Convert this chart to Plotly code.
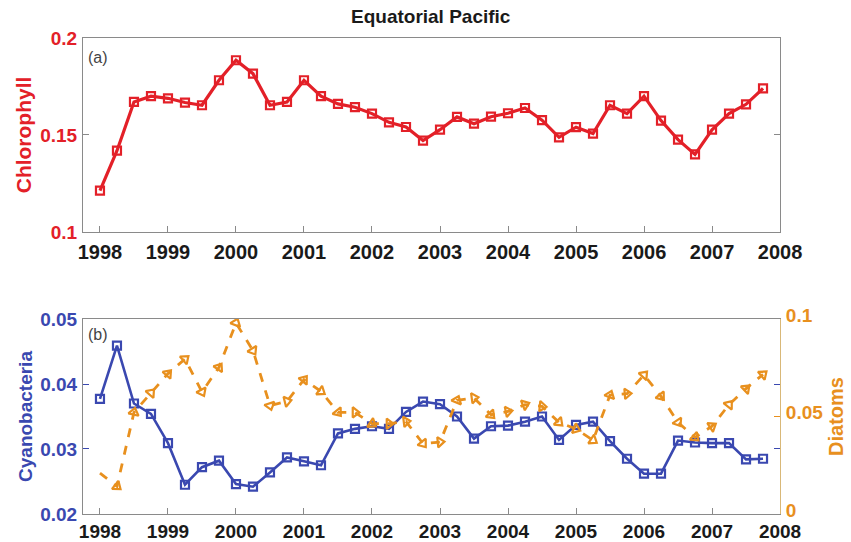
import plotly.graph_objects as go

years = [1998 + 0.25 * i for i in range(40)]

chlorophyll = [0.1213, 0.1419, 0.1670, 0.1700, 0.1689, 0.1667, 0.1653, 0.1782, 0.1885, 0.1816,
               0.1653, 0.1670, 0.1782, 0.1700, 0.1660, 0.1643, 0.1610, 0.1565, 0.1541, 0.1471,
               0.1527, 0.1593, 0.1558, 0.1594, 0.1612, 0.1639, 0.1576, 0.1488, 0.1540, 0.1507,
               0.1653, 0.1610, 0.1700, 0.1574, 0.1476, 0.1400, 0.1527, 0.1610, 0.1658, 0.1740]

cyanobacteria = [0.0377, 0.0459, 0.0370, 0.0354, 0.0309, 0.0245, 0.0272, 0.0282, 0.0246, 0.0242,
                 0.0264, 0.0287, 0.0281, 0.0275, 0.0324, 0.0331, 0.0335, 0.0331, 0.0357, 0.0373,
                 0.0369, 0.0350, 0.0316, 0.0335, 0.0336, 0.0342, 0.0350, 0.0314, 0.0337, 0.0342,
                 0.0312, 0.0285, 0.0262, 0.0262, 0.0313, 0.0310, 0.0309, 0.0309, 0.0284, 0.0285]

diatoms = [0.0210, 0.0142, 0.0521, 0.0621, 0.0720, 0.0795, 0.0626, 0.0752, 0.0980, 0.0838,
           0.0556, 0.0578, 0.0689, 0.0629, 0.0521, 0.0521, 0.0463, 0.0463, 0.0474, 0.0361,
           0.0369, 0.0583, 0.0595, 0.0509, 0.0526, 0.0561, 0.0552, 0.0470, 0.0436, 0.0378,
           0.0610, 0.0617, 0.0713, 0.0603, 0.0470, 0.0393, 0.0450, 0.0561, 0.0643, 0.0716]

x_ticks = list(range(1998, 2009))

RED = "#e32028"
BLUE = "#3a48b0"
ORANGE = "#e8901e"
FRAME = "#8a8a8a"
FONT = "Liberation Sans"

fig = go.Figure()

fig.add_trace(go.Scatter(
    x=years, y=chlorophyll, mode="lines+markers", xaxis="x", yaxis="y",
    line=dict(color=RED, width=3.2),
    marker=dict(symbol="square-open", size=8, color=RED, line=dict(width=2.2, color=RED)),
    showlegend=False))

fig.add_trace(go.Scatter(
    x=years, y=cyanobacteria, mode="lines+markers", xaxis="x2", yaxis="y2",
    line=dict(color=BLUE, width=2.6),
    marker=dict(symbol="square-open", size=8, color=BLUE, line=dict(width=2.2, color=BLUE)),
    showlegend=False))

fig.add_trace(go.Scatter(
    x=years, y=diatoms, mode="lines+markers", xaxis="x2", yaxis="y3",
    line=dict(color=ORANGE, width=2.8, dash="dash"),
    marker=dict(symbol="triangle-up-open", size=9, color=ORANGE, angleref="previous",
                line=dict(width=2.2, color=ORANGE)),
    showlegend=False))

def xaxis_opts(standoff, size):
    return dict(range=[1997.75, 2008], tickmode="array", tickvals=x_ticks,
                ticks="inside", ticklen=6, tickcolor=FRAME, showgrid=False, zeroline=False,
                showline=True, linecolor=FRAME, linewidth=1, mirror=True,
                ticklabelstandoff=standoff,
                tickfont=dict(family=FONT, size=size, color="#1a1a1a", weight="bold"),
                automargin=False)

fig.update_layout(
    width=851, height=542,
    margin=dict(l=0, r=0, t=0, b=0),
    paper_bgcolor="white", plot_bgcolor="white",
    xaxis=dict(domain=[0.0975, 0.9166], anchor="y", **xaxis_opts(2, 20)),
    yaxis=dict(domain=[0.572, 0.930], anchor="x", range=[0.1, 0.2],
               tickvals=[0.1, 0.15, 0.2], ticktext=["0.1", "0.15", "0.2"],
               ticks="inside", ticklen=6, tickcolor=FRAME, showgrid=False, zeroline=False,
               showline=True, linecolor=FRAME, linewidth=1, mirror="ticks",
               ticklabelstandoff=1,
               tickfont=dict(family=FONT, size=19, color=RED, weight="bold"),
               title=dict(text="Chlorophyll", standoff=2,
                          font=dict(family=FONT, size=21, color=RED, weight="bold")),
               automargin=False),
    xaxis2=dict(domain=[0.0975, 0.9166], anchor="y2", **xaxis_opts(0, 19)),
    yaxis2=dict(domain=[0.0517, 0.4114], anchor="x2", range=[0.02, 0.05],
                tickvals=[0.02, 0.03, 0.04, 0.05], ticktext=["0.02", "0.03", "0.04", "0.05"],
                ticks="inside", ticklen=6, tickcolor=BLUE, showgrid=False, zeroline=False,
                showline=True, linecolor=FRAME, linewidth=1, mirror="ticks",
                ticklabelstandoff=1,
                tickfont=dict(family=FONT, size=19, color=BLUE, weight="bold"),
                title=dict(text="Cyanobacteria", standoff=2,
                           font=dict(family=FONT, size=19, color=BLUE, weight="bold")),
                automargin=False),
    yaxis3=dict(overlaying="y2", side="right", anchor="x2", range=[0, 0.1],
                tickvals=[0, 0.05, 0.1], ticktext=["0", "0.05", "0.1"],
                ticks="inside", ticklen=6, tickcolor=ORANGE, showgrid=False, zeroline=False,
                showline=True, linecolor="#d9b878", linewidth=1,
                ticklabelstandoff=1, ticklabelshift=-4,
                tickfont=dict(family=FONT, size=19, color=ORANGE, weight="bold"),
                title=dict(text="Diatoms", standoff=6,
                           font=dict(family=FONT, size=20, color=ORANGE, weight="bold")),
                automargin=False),
    annotations=[
        dict(text="Equatorial Pacific", x=0.507, y=1 - 16 / 542, xref="paper", yref="paper",
             yanchor="middle", showarrow=False,
             font=dict(family=FONT, size=19, color="#1a1a1a", weight="bold")),
        dict(text="(a)", xref="x", yref="y", x=1997.8, y=0.1898, xanchor="left", yanchor="middle",
             showarrow=False, font=dict(family=FONT, size=16, color="#444444")),
        dict(text="(b)", xref="x2", yref="y2", x=1997.8, y=0.0476, xanchor="left", yanchor="middle",
             showarrow=False, font=dict(family=FONT, size=16, color="#444444")),
    ],
)

fig.write_html("out.html")
